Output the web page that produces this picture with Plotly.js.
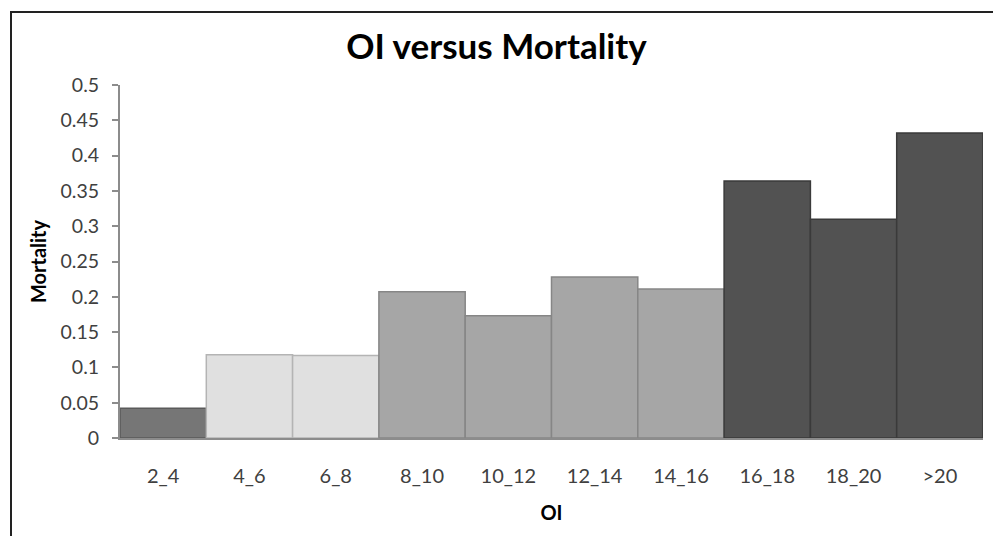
<!DOCTYPE html>
<html>
<head>
<meta charset="utf-8">
<script src="https://cdn.plot.ly/plotly-3.0.1.min.js"></script>
<style>
  html, body { margin: 0; padding: 0; background: #fff; }
  #wrap { position: relative; width: 993px; height: 536px; overflow: hidden; }
  #chart { position: absolute; left: 0; top: 0; width: 993px; height: 536px; }
  #frame { position: absolute; left: 10px; top: 11px; width: 1000px; height: 600px;
           border-top: 2px solid #222; border-left: 2px solid #222; pointer-events: none; }
</style>
</head>
<body>
<div id="wrap">
  <div id="chart"></div>
  <div id="frame"></div>
</div>
<script>
const categories = ["2_4", "4_6", "6_8", "8_10", "10_12", "12_14", "14_16", "16_18", "18_20", ">20"];
const mortality = [0.042, 0.118, 0.117, 0.207, 0.173, 0.228, 0.211, 0.364, 0.310, 0.432];
const barColors = ["#767676", "#e0e0e0", "#e0e0e0", "#a6a6a6", "#a6a6a6", "#a6a6a6", "#a6a6a6", "#525252", "#525252", "#525252"];
const barEdges  = ["#5a5a5a", "#b4b4b4", "#b4b4b4", "#868686", "#868686", "#868686", "#868686", "#3a3a3a", "#3a3a3a", "#3a3a3a"];
const yTicks = [0, 0.05, 0.1, 0.15, 0.2, 0.25, 0.3, 0.35, 0.4, 0.45, 0.5];
const yTickText = ["0", "0.05", "0.1", "0.15", "0.2", "0.25", "0.3", "0.35", "0.4", "0.45", "0.5"];

const trace = {
  type: "bar",
  x: categories,
  y: mortality,
  width: 1,
  marker: { color: barColors, line: { color: barEdges, width: 1.5 } },
  hoverinfo: "x+y"
};

const layout = {
  width: 993,
  height: 536,
  margin: { l: 120, r: 10, t: 85, b: 98 },
  paper_bgcolor: "#ffffff",
  plot_bgcolor: "#ffffff",
  font: { family: "Lato, 'Open Sans', sans-serif", color: "#404040" },
  showlegend: false,
  bargap: 0,
  title: {
    text: "<b>OI versus Mortality</b>",
    font: { family: "Lato, sans-serif", size: 35, color: "#000" },
    x: 0.5, xanchor: "center",
    y: 0.912, yanchor: "middle"
  },
  xaxis: {
    type: "category",
    showgrid: false,
    zeroline: false,
    showline: true,
    linecolor: "#8c8c8c",
    linewidth: 2,
    ticks: "",
    tickfont: { size: 20, color: "#404040" },
    ticklabelstandoff: 19,
    title: { text: "<b>OI</b>", font: { size: 20, color: "#000" }, standoff: 20 }
  },
  yaxis: {
    range: [0, 0.5],
    tickvals: yTicks,
    ticktext: yTickText,
    showgrid: false,
    zeroline: false,
    showline: true,
    linecolor: "#8c8c8c",
    linewidth: 2,
    ticks: "outside",
    ticklen: 6,
    tickcolor: "#8c8c8c",
    tickwidth: 2,
    tickfont: { size: 19.5, color: "#404040" },
    ticklabelstandoff: 9,
    title: { text: "<b>Mortality</b>", font: { size: 20, color: "#000" }, standoff: 9 }
  }
};

Plotly.newPlot("chart", [trace], layout, { displayModeBar: false, staticPlot: true });
</script>
</body>
</html>
